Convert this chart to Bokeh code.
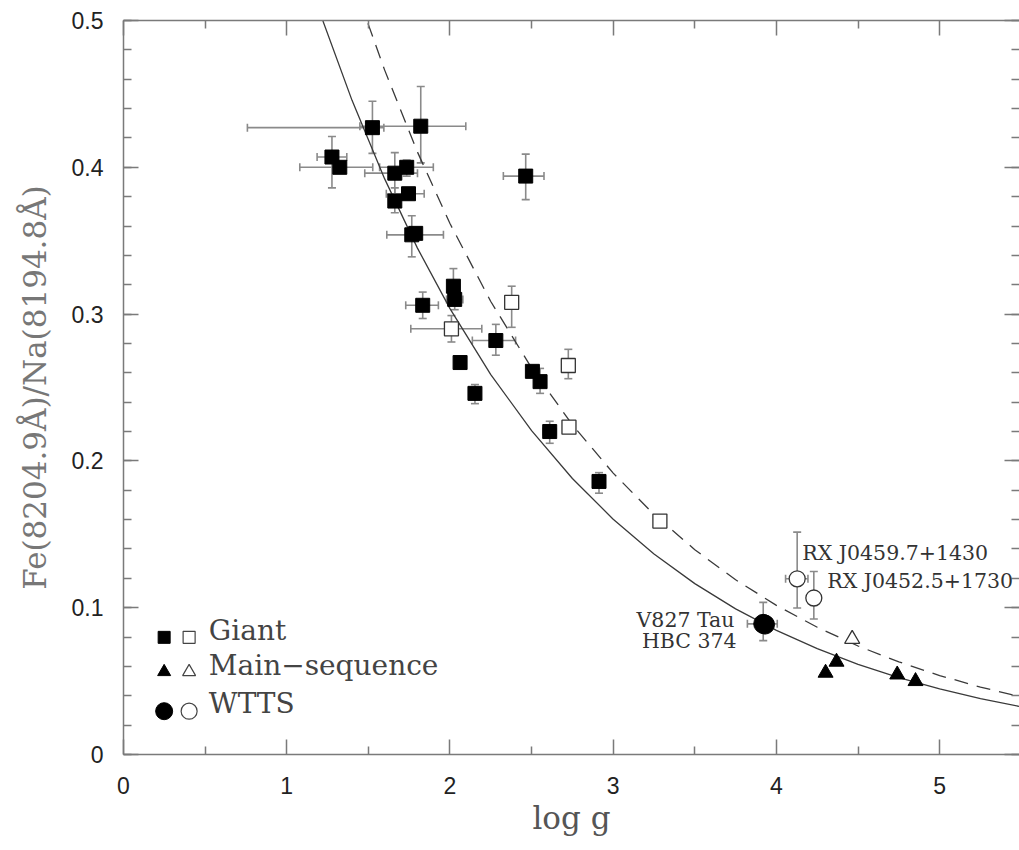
import math
from bokeh.plotting import figure
from bokeh.models import (ColumnDataSource, Whisker, TeeHead, LinearAxis,
                          FixedTicker, Label, Range1d, CustomLabelingPolicy)
from bokeh.embed import file_html
from bokeh.resources import INLINE

nan = float("nan")

# ---------------- data ----------------
# Giants, filled squares
giant_f_logg = [1.277, 1.325, 1.525, 1.821, 2.464, 1.662, 1.735, 1.746, 1.662, 1.766,
                1.790, 2.021, 2.029, 1.833, 2.281, 2.062, 2.153, 2.505, 2.552, 2.611, 2.913]
giant_f_ratio = [0.407, 0.400, 0.427, 0.428, 0.394, 0.396, 0.400, 0.382, 0.377, 0.354,
                 0.355, 0.319, 0.310, 0.306, 0.282, 0.267, 0.246, 0.261, 0.254, 0.220, 0.186]
giant_f_logg_lo = [1.186, 1.080, 0.759, 1.448, 2.327, 1.478, 1.569, 1.610, nan, 1.613,
                   nan, nan, 1.979, 1.729, 2.137, nan, nan, nan, nan, 2.571, nan]
giant_f_logg_hi = [1.368, 1.527, 1.595, 2.097, 2.576, 1.801, 1.898, 1.842, nan, 1.960,
                   nan, nan, 2.079, 1.929, 2.402, nan, nan, nan, nan, 2.651, nan]
giant_f_ratio_lo = [0.386, nan, 0.4095, 0.403, 0.378, 0.381, 0.394, nan, 0.369, 0.339,
                    nan, 0.308, 0.303, 0.297, 0.272, nan, 0.239, nan, 0.246, 0.212, 0.178]
giant_f_ratio_hi = [0.421, nan, 0.445, 0.455, 0.409, 0.410, 0.405, nan, 0.386, 0.367,
                    nan, 0.331, 0.317, 0.315, 0.293, nan, 0.252, nan, 0.263, 0.227, 0.192]

# Giants, open squares
giant_o_logg = [2.009, 2.378, 2.725, 2.729, 3.286]
giant_o_ratio = [0.290, 0.308, 0.265, 0.223, 0.159]
giant_o_logg_lo = [1.760, nan, nan, nan, nan]
giant_o_logg_hi = [2.195, nan, nan, nan, nan]
giant_o_ratio_lo = [0.281, 0.291, 0.256, 0.219, nan]
giant_o_ratio_hi = [0.299, 0.319, 0.276, 0.227, nan]

# Main-sequence
ms_f_logg = [4.301, 4.368, 4.740, 4.852]
ms_f_ratio = [0.0556, 0.0631, 0.0544, 0.0499]
ms_o_logg = [4.464]
ms_o_ratio = [0.0787]

# WTTS
wtts_f_logg = [3.919, 3.930]
wtts_f_ratio = [0.0890, 0.0885]
wtts_f_logg_lo = [3.822, nan]
wtts_f_logg_hi = [4.005, nan]
wtts_f_ratio_lo = [0.0776, nan]
wtts_f_ratio_hi = [0.1036, nan]
wtts_f_names = ["V827 Tau", "HBC 374"]

wtts_o_logg = [4.127, 4.229]
wtts_o_ratio = [0.1197, 0.1066]
wtts_o_logg_lo = [4.056, 4.189]
wtts_o_logg_hi = [4.193, 4.269]
wtts_o_ratio_lo = [0.0998, 0.0923]
wtts_o_ratio_hi = [0.1515, 0.1247]
wtts_o_names = ["RX J0459.7+1430", "RX J0452.5+1730"]

# Relations
solid_logg = [1.2, 1.4, 1.6, 1.8, 2.0, 2.25, 2.5, 2.75, 3.0, 3.25, 3.5, 3.75, 4.0,
              4.25, 4.5, 4.75, 5.0, 5.25, 5.5]
solid_ratio = [0.5063, 0.4456, 0.3921, 0.3451, 0.3037, 0.2588, 0.2206, 0.1880, 0.1603,
               0.1366, 0.1164, 0.0992, 0.0846, 0.0721, 0.0614, 0.0524, 0.0447, 0.0381, 0.0325]
dashed_logg = [1.45, 1.6, 1.8, 2.0, 2.25, 2.5, 2.75, 3.0, 3.25, 3.5, 3.75, 4.0,
               4.25, 4.5, 4.75, 5.0, 5.25, 5.5]
dashed_ratio = [0.5128, 0.4662, 0.4106, 0.3617, 0.3086, 0.2633, 0.2246, 0.1917, 0.1635,
                0.1395, 0.1190, 0.1016, 0.0867, 0.0739, 0.0631, 0.0538, 0.0459, 0.0392]

x_ticks = [0, 1, 2, 3, 4, 5]
x_minor = [0.5, 1.5, 2.5, 3.5, 4.5]
y_ticks = [0, 0.1, 0.2, 0.3, 0.4, 0.5]
y_tick_labels = ["0", "0.1", "0.2", "0.3", "0.4", "0.5"]
y_minor = [round(0.02 * i, 2) for i in range(26)]

legend_labels = ["Giant", "Main\u2212sequence", "WTTS"]

# ---------------- styles ----------------
AX = "#7a7a7a"
ERR = "#8a8a8a"
CURVE = "#3a3a3a"
SERIF = "DejaVu Serif"

p = figure(width=1019, height=850, x_range=Range1d(0, 5.489), y_range=Range1d(0, 0.5),
           output_backend="svg", toolbar_location=None,
           min_border_left=123, min_border_right=0, min_border_top=20, min_border_bottom=96)
p.outline_line_color = None
p.xgrid.visible = False
p.ygrid.visible = False
p.background_fill_color = "white"
p.border_fill_color = "white"

xt = FixedTicker(ticks=x_ticks, minor_ticks=x_minor)
yt = FixedTicker(ticks=y_ticks, minor_ticks=y_minor)

def style_axis(ax, labels=True):
    ax.axis_line_color = AX
    ax.axis_line_width = 1.5
    ax.major_tick_line_color = AX
    ax.major_tick_line_width = 1.5
    ax.minor_tick_line_color = AX
    ax.minor_tick_line_width = 1.5
    ax.major_tick_in = 15
    ax.major_tick_out = 0
    ax.minor_tick_in = 8
    ax.minor_tick_out = 0
    if labels:
        ax.major_label_text_font = "Liberation Sans"
        ax.major_label_text_font_size = "23px"
        ax.major_label_text_color = "#222222"
        ax.major_label_standoff = 20
    else:
        ax.major_label_policy = CustomLabelingPolicy(code="if (false) { yield 0 }")
        ax.major_label_text_font_size = "0px"
        ax.major_label_standoff = 0

p.xaxis.ticker = xt
p.yaxis.ticker = yt
style_axis(p.xaxis[0])
style_axis(p.yaxis[0])
p.xaxis.major_label_standoff = 22
p.yaxis.major_label_overrides = {t: s for t, s in zip(y_ticks, y_tick_labels)}
p.yaxis.axis_label = "Fe(8204.9\u00c5)/Na(8194.8\u00c5)"
p.yaxis.axis_label_text_font = SERIF
p.yaxis.axis_label_text_font_size = "31px"
p.yaxis.axis_label_text_font_style = "normal"
p.yaxis.axis_label_text_color = "#777777"
p.yaxis.axis_label_standoff = 16

p.xaxis.axis_label = "log g"
p.xaxis.axis_label_text_font = SERIF
p.xaxis.axis_label_text_font_size = "31px"
p.xaxis.axis_label_text_font_style = "normal"
p.xaxis.axis_label_text_color = "#555555"
p.xaxis.axis_label_standoff = 3

top = LinearAxis(ticker=xt)
style_axis(top, labels=False)
p.add_layout(top, "above")
right = LinearAxis(ticker=yt)
style_axis(right, labels=False)
right.axis_line_alpha = 0
p.add_layout(right, "right")

# curves
p.line(solid_logg, solid_ratio, line_color=CURVE, line_width=1.3)
p.line(dashed_logg, dashed_ratio, line_color=CURVE, line_width=1.3, line_dash="14 9")

def add_err(xs, ys, lo, hi, dim):
    idx = [i for i in range(len(xs)) if not math.isnan(lo[i])]
    if not idx:
        return
    if dim == "height":
        base = [xs[i] for i in idx]
    else:
        base = [ys[i] for i in idx]
    src = ColumnDataSource(dict(base=base, lower=[lo[i] for i in idx], upper=[hi[i] for i in idx]))
    w = Whisker(base="base", lower="lower", upper="upper", source=src, dimension=dim,
                level="underlay", line_color=ERR, line_width=1.6,
                upper_head=TeeHead(size=8, line_color=ERR, line_width=1.6),
                lower_head=TeeHead(size=8, line_color=ERR, line_width=1.6))
    p.add_layout(w)

for xs, ys, xl, xh, yl, yh in [
        (giant_f_logg, giant_f_ratio, giant_f_logg_lo, giant_f_logg_hi, giant_f_ratio_lo, giant_f_ratio_hi),
        (giant_o_logg, giant_o_ratio, giant_o_logg_lo, giant_o_logg_hi, giant_o_ratio_lo, giant_o_ratio_hi),
        (wtts_f_logg, wtts_f_ratio, wtts_f_logg_lo, wtts_f_logg_hi, wtts_f_ratio_lo, wtts_f_ratio_hi),
        (wtts_o_logg, wtts_o_ratio, wtts_o_logg_lo, wtts_o_logg_hi, wtts_o_ratio_lo, wtts_o_ratio_hi)]:
    add_err(xs, ys, xl, xh, "width")
    add_err(xs, ys, yl, yh, "height")

# markers
p.scatter(giant_f_logg, giant_f_ratio, marker="square", size=14, fill_color="black", line_color="black")
p.scatter(giant_o_logg, giant_o_ratio, marker="square", size=14, fill_color="white",
          line_color="#333333", line_width=1.3)
p.scatter(ms_f_logg, ms_f_ratio, marker="triangle", size=15, fill_color="black", line_color="black")
p.scatter(ms_o_logg, ms_o_ratio, marker="triangle", size=15, fill_color="white",
          line_color="#333333", line_width=1.3)
p.scatter(wtts_f_logg, wtts_f_ratio, marker="circle", size=19, fill_color="black", line_color="black")
p.scatter(wtts_o_logg, wtts_o_ratio, marker="circle", size=16, fill_color="white",
          line_color="#333333", line_width=1.3)

# star names
p.add_layout(Label(x=4.158, y=0.1291, text=wtts_o_names[0], text_font=SERIF,
                   text_font_size="20.5px", text_color="#333333"))
p.add_layout(Label(x=4.311, y=0.1098, text=wtts_o_names[1], text_font=SERIF,
                   text_font_size="20.5px", text_color="#333333"))
p.add_layout(Label(x=3.743, y=0.0836, text=wtts_f_names[0], text_font=SERIF,
                   text_font_size="20.5px", text_color="#333333", text_align="right"))
p.add_layout(Label(x=3.756, y=0.0689, text=wtts_f_names[1], text_font=SERIF,
                   text_font_size="20.5px", text_color="#333333", text_align="right"))

# legend (keys drawn as a small key block)
key_x_filled = 0.249
key_x_open = 0.402
key_rows = [0.0798, 0.0563, 0.0295]
text_rows = [0.0734, 0.0495, 0.0234]
p.scatter([key_x_filled], [key_rows[0]], marker="square", size=12, fill_color="black", line_color="black")
p.scatter([key_x_open], [key_rows[0]], marker="square", size=12, fill_color="white", line_color="#444444", line_width=1.2)
p.scatter([key_x_filled], [key_rows[1]], marker="triangle", size=13, fill_color="black", line_color="black")
p.scatter([key_x_open], [key_rows[1]], marker="triangle", size=13, fill_color="white", line_color="#444444", line_width=1.2)
p.scatter([key_x_filled], [key_rows[2]], marker="circle", size=17, fill_color="black", line_color="black")
p.scatter([key_x_open], [key_rows[2]], marker="circle", size=16, fill_color="white", line_color="#444444", line_width=1.2)
for lab, ty in zip(legend_labels, text_rows):
    p.add_layout(Label(x=0.523, y=ty, text=lab, text_font=SERIF, text_font_size="28px",
                       text_color="#444444"))

open("out.html", "w").write(file_html(p, INLINE))
